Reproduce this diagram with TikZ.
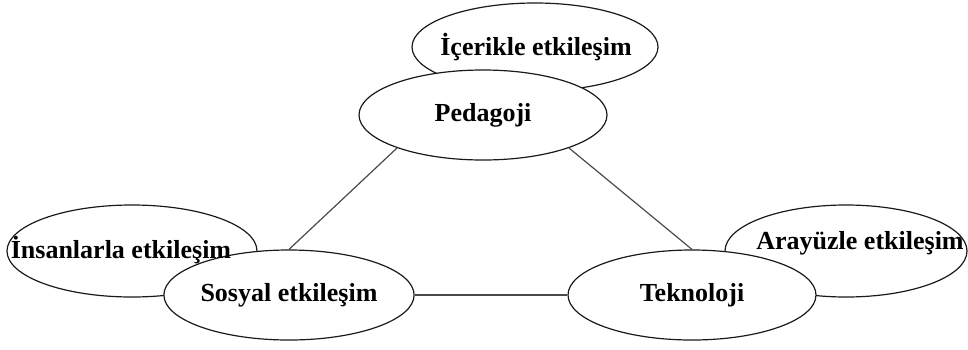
\documentclass[tikz,border=0pt]{standalone}
\usepackage{fontspec}
\setmainfont{Liberation Serif}
\usepackage{tikz}
\usetikzlibrary{
  shapes,
  shapes.geometric,
  positioning,
  calc
}
\definecolor{tpLine}{HTML}{4A4A4A}
\definecolor{tpEdge}{HTML}{1A1A1A}
\tikzset{
  tpnode/.style={
    draw=tpEdge, ellipse, fill=white, line width=0.6pt, inner sep=0pt,
    minimum width=124pt, minimum height=45pt,
    font=\fontsize{13}{15}\selectfont\bfseries
  },
  tpouter/.style={tpnode, minimum width=123pt, minimum height=46pt},
  tplbl/.style={font=\fontsize{13}{15}\selectfont\bfseries, inner sep=0pt},
  tplink/.style={line width=0.6pt, tpLine}
}

\begin{document}
\begin{tikzpicture}[x=0.5pt, y=-0.5pt]
  \useasboundingbox (0,0) rectangle (968,349);
  % outer bubbles first, main bubbles on top
  \node[tpouter, minimum height=44pt] (ice) at (535,47) {};
  \node[tpnode] (ped) at (483,115) {Pedagoji};
  \node[tpouter, minimum width=125pt] (ins) at (132,251) {};
  \node[tpnode] (sos) at (289,295) {Sosyal etkileşim};
  \node[tpouter, minimum width=121pt] (ara) at (846,251) {};
  \node[tpnode] (tek) at (692,295) {Teknoloji};
  \draw[tplink] (ped.201) -- (sos.north);
  \draw[tplink] (ped.339) -- (tek.north);
  \draw[tplink] (sos) -- (tek);
  % texts of the outer bubbles
  \node[tplbl] (ice-t) at (536,47) {İçerikle etkileşim};
  \node[tplbl] (ins-t) at (121,250) {İnsanlarla etkileşim};
  \node[tplbl] (ara-t) at (860,243) {Arayüzle etkileşim};
\end{tikzpicture}
\end{document}
